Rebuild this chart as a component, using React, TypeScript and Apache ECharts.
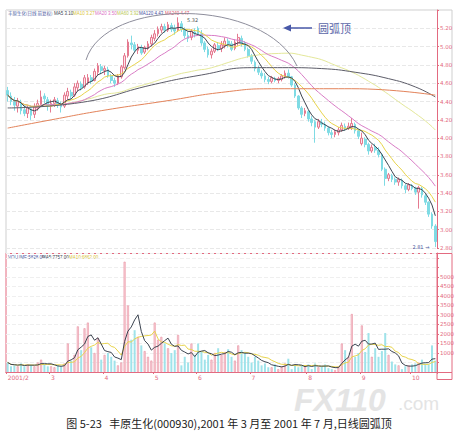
import React, { useEffect, useRef } from "react";
import * as echarts from "echarts";

// [open, close, low, high]
const ohlc: number[][] = [
  [4.52,4.47,4.40,4.56],[4.46,4.40,4.36,4.50],[4.40,4.36,4.30,4.45],[4.35,4.40,4.28,4.44],
  [4.38,4.30,4.26,4.42],[4.31,4.27,4.24,4.36],[4.27,4.33,4.22,4.36],[4.32,4.25,4.20,4.36],
  [4.26,4.34,4.22,4.38],[4.33,4.38,4.30,4.42],[4.37,4.45,4.34,4.52],[4.46,4.43,4.38,4.49],
  [4.42,4.35,4.30,4.45],[4.35,4.38,4.28,4.42],[4.38,4.42,4.34,4.45],[4.41,4.36,4.33,4.44],
  [4.36,4.34,4.28,4.40],[4.35,4.47,4.33,4.50],[4.46,4.51,4.42,4.55],[4.50,4.46,4.43,4.53],
  [4.47,4.56,4.45,4.60],[4.55,4.60,4.51,4.63],[4.59,4.55,4.52,4.62],[4.56,4.66,4.54,4.69],
  [4.60,4.66,4.58,4.70],[4.66,4.62,4.59,4.69],[4.63,4.73,4.62,4.76],[4.72,4.79,4.69,4.82],
  [4.78,4.74,4.70,4.81],[4.74,4.76,4.69,4.79],[4.75,4.68,4.66,4.78],[4.68,4.63,4.60,4.70],
  [4.63,4.60,4.56,4.66],[4.60,4.68,4.58,4.70],[4.67,4.78,4.65,4.80],[4.77,4.90,4.75,4.93],
  [4.90,5.05,4.88,5.08],[5.04,5.02,4.97,5.12],[5.02,4.96,4.94,5.05],[4.96,5.00,4.92,5.03],
  [4.99,4.93,4.91,5.02],[4.94,4.99,4.92,5.01],[4.98,5.03,4.96,5.06],[5.03,5.10,5.00,5.13],
  [5.09,5.14,5.06,5.18],[5.14,5.19,5.11,5.22],[5.18,5.22,5.15,5.25],[5.22,5.18,5.15,5.25],
  [5.18,5.24,5.16,5.27],[5.23,5.19,5.16,5.26],[5.20,5.17,5.13,5.24],[5.18,5.26,5.16,5.32],
  [5.25,5.19,5.16,5.28],[5.19,5.12,5.09,5.21],[5.12,5.09,5.05,5.16],[5.10,5.17,5.07,5.19],
  [5.16,5.14,5.10,5.20],[5.20,5.14,5.12,5.22],[5.14,5.04,5.01,5.18],[5.04,4.97,4.94,5.06],
  [4.97,4.91,4.88,5.00],[4.91,4.95,4.87,4.98],[4.95,5.02,4.93,5.04],[5.01,4.98,4.95,5.05],
  [4.98,5.02,4.94,5.06],[5.01,5.06,4.98,5.10],[5.06,5.03,4.99,5.09],[5.03,4.97,4.95,5.06],
  [4.98,5.05,4.96,5.08],[5.04,5.10,5.01,5.14],[5.09,5.04,5.00,5.12],[5.04,4.97,4.95,5.06],
  [4.97,4.90,4.88,4.99],[4.90,4.84,4.81,4.92],[4.83,4.76,4.73,4.85],[4.76,4.72,4.69,4.79],
  [4.71,4.68,4.65,4.74],[4.68,4.64,4.61,4.71],[4.64,4.62,4.59,4.67],[4.62,4.66,4.60,4.68],
  [4.65,4.63,4.61,4.67],[4.63,4.65,4.60,4.67],[4.64,4.68,4.62,4.70],[4.67,4.71,4.65,4.74],
  [4.71,4.67,4.65,4.75],[4.67,4.58,4.56,4.68],[4.58,4.46,4.44,4.60],[4.46,4.33,4.31,4.47],
  [4.33,4.26,4.22,4.35],[4.27,4.30,4.24,4.33],[4.29,4.21,4.18,4.31],[4.21,4.17,4.13,4.24],
  [4.18,4.12,3.95,4.20],[4.12,4.18,4.10,4.21],[4.17,4.15,4.12,4.21],[4.15,4.11,4.08,4.18],
  [4.11,4.06,4.03,4.13],[4.06,4.04,4.00,4.09],[4.04,4.07,4.01,4.09],[4.06,4.09,4.03,4.12],
  [4.09,4.14,4.07,4.17],[4.13,4.11,4.08,4.16],[4.11,4.13,4.09,4.17],[4.12,4.16,4.09,4.22],
  [4.15,4.08,4.05,4.17],[4.08,4.02,3.99,4.10],[3.94,4.00,3.92,4.06],[3.99,3.93,3.90,4.01],
  [3.93,3.86,3.82,3.95],[3.86,3.90,3.84,3.93],[3.90,3.87,3.84,3.94],[3.87,3.82,3.79,3.90],
  [3.82,3.66,3.64,3.84],[3.66,3.56,3.48,3.68],[3.56,3.60,3.53,3.62],[3.59,3.55,3.52,3.61],
  [3.55,3.52,3.49,3.57],[3.52,3.55,3.48,3.57],[3.54,3.48,3.45,3.56],[3.48,3.44,3.40,3.50],
  [3.44,3.49,3.42,3.51],[3.48,3.45,3.43,3.50],[3.45,3.41,3.38,3.47],[3.41,3.46,3.23,3.48],
  [3.45,3.38,3.35,3.47],[3.37,3.30,3.27,3.39],[3.30,3.17,3.14,3.31],[3.17,3.04,3.01,3.19],
  [3.04,2.87,2.81,3.06],
];

const volumes: number[] = [
  500,300,350,300,450,300,400,350,300,500,650,400,300,300,250,350,300,450,1500,600,
  900,2400,1150,2300,2600,1300,1000,1800,650,900,1000,800,600,350,500,5800,3500,1700,2200,1850,
  1400,1100,800,600,2600,1700,1850,1500,1250,1000,1150,1950,350,800,500,1500,900,1500,1100,650,
  900,650,1000,1250,900,1050,1200,800,600,1400,1150,1000,800,500,800,600,350,450,250,250,
  400,150,300,450,700,150,350,250,350,300,400,150,450,250,300,400,200,150,100,300,
  1500,1150,800,3050,800,1000,2450,1050,2050,800,1250,800,1100,2050,900,550,400,350,150,300,
  350,400,450,500,650,450,400,1400,600,
];

// long moving averages: [bar index, value]
const ma120Points: number[][] = [
  [0,4.33],[22,4.39],[43,4.58],[58,4.69],[73,4.77],[84,4.77],[94,4.76],[104,4.72],[114,4.65],[122,4.56],[128,4.45],
];
const ma240Points: number[][] = [
  [0,4.11],[13,4.20],[28,4.30],[48,4.41],[64,4.50],[79,4.54],[103,4.54],[128,4.47],
];

const tickIndex: number[] = [0, 13, 29, 44, 57, 73, 90, 106, 121];
const tickLabels: string[] = ["2001/2", "3", "4", "5", "6", "7", "8", "9", "10"];

const stockTitle = "丰原生化(日线 前复权)";
const priceLegend: string[] = ["MA5 3.10", "MA10 3.27", "MA20 3.50", "MA60 3.92", "MA120 4.43", "MA240 4.47"];
const volumeLegend: string[] = ["VOLUME:5828.00", "MA5:7757.00", "MA10:6862.00"];
const peakLabel = "5.32";
const lowLabel = "2.81";
const patternLabel = "圆弧顶";
const caption = "图 5-23   丰原生化(000930),2001 年 3 月至 2001 年 7 月,日线圆弧顶";

function movingAverage(values: number[], n: number): number[] {
  return values.map((_, i) => {
    const s = Math.max(0, i - n + 1);
    let sum = 0;
    for (let k = s; k <= i; k++) sum += values[k];
    return +(sum / (i - s + 1)).toFixed(3);
  });
}

const RED = "#e36a80";
const GRID_LINE = "#e8e8e8";

export default function App() {
  const ref = useRef<HTMLDivElement>(null);
  useEffect(() => {
    if (!ref.current) return;
    const chart = echarts.init(ref.current, undefined, { renderer: "svg" });
    const cats = ohlc.map((_, i) => String(i));
    const closes = ohlc.map((r) => r[1]);
    const tickSet = new Set(tickIndex);
    const lineS = (name: string, data: any, color: string, xi: number, yi: number, smooth: any = false) => ({
      name, type: "line", data, xAxisIndex: xi, yAxisIndex: yi, symbol: "none", smooth,
      lineStyle: { color, width: 1 }, silent: true,
    });
    const legendColors = ["#3c4450", "#d8c43a", "#d96fc4", "#b8c850", "#4a50a0", "#e0506a"];
    const legendX = [54, 73, 95, 117, 139, 165];
    const smallFont = "4.5px 'Liberation Sans'";
    const graphic: any[] = [
      // frame
      { type: "line", shape: { x1: 6, y1: 10, x2: 452, y2: 10 }, style: { stroke: "#cfcfcf", lineWidth: 1 } },
      { type: "line", shape: { x1: 6, y1: 10, x2: 6, y2: 253 }, style: { stroke: "#cfcfcf", lineWidth: 1 } },
      { type: "line", shape: { x1: 452, y1: 10, x2: 452, y2: 253 }, style: { stroke: "#cfcfcf", lineWidth: 1 } },
      { type: "line", shape: { x1: 6, y1: 253.5, x2: 452, y2: 253.5 }, style: { stroke: RED, lineWidth: 1 } },
      { type: "line", shape: { x1: 6, y1: 253, x2: 6, y2: 373 }, style: { stroke: RED, lineWidth: 1 } },
      { type: "rect", shape: { x: 437, y: 253.5, width: 15, height: 119 }, style: { fill: "none", stroke: RED, lineWidth: 1 } },
      { type: "rect", shape: { x: 437, y: 372.5, width: 15, height: 7 }, style: { fill: "none", stroke: RED, lineWidth: 1 } },
      // arc
      { type: "bezierCurve", shape: { x1: 86, y1: 60, cpx1: 105, cpy1: -3, cpx2: 265, cpy2: -3, x2: 297, y2: 66 },
        style: { stroke: "#8e8e9c", lineWidth: 1, fill: "none" }, z: 10 },
      // arrow + label
      { type: "line", shape: { x1: 312, y1: 28, x2: 288, y2: 28 }, style: { stroke: "#4858a8", lineWidth: 1.5 }, z: 10 },
      { type: "polygon", shape: { points: [[283, 28], [291, 24.5], [291, 31.5]] }, style: { fill: "#4858a8" }, z: 10 },
      { type: "text", x: 318, y: 28, style: { text: patternLabel, fill: "#5a66a8", font: "11px 'Noto Sans CJK SC'", verticalAlign: "middle" }, z: 10 },
      // legends
      { type: "text", x: 8, y: 13, style: { text: stockTitle, fill: "#4a58a0", font: "4.5px 'Noto Sans CJK SC'", verticalAlign: "middle" } },
      ...priceLegend.map((t, i) => ({ type: "text", x: legendX[i], y: 13, style: { text: t, fill: legendColors[i], font: smallFont, verticalAlign: "middle" } })),
      { type: "text", x: 8, y: 257, style: { text: volumeLegend[0], fill: "#4a58a0", font: smallFont, verticalAlign: "middle" } },
      { type: "text", x: 42, y: 257, style: { text: volumeLegend[1], fill: "#3c4450", font: smallFont, verticalAlign: "middle" } },
      { type: "text", x: 69, y: 257, style: { text: volumeLegend[2], fill: "#d8c43a", font: smallFont, verticalAlign: "middle" } },
      // watermark
      { type: "text", x: 294, y: 384, style: { text: "FX110", fill: "#e4e4e4", font: "italic bold 32px 'Liberation Sans'" }, z: 0 },
      { type: "text", x: 398, y: 394, style: { text: ".com", fill: "#e4e4e4", font: "19px 'Liberation Sans'" }, z: 0 },
      // caption
      { type: "text", x: 229, y: 423, style: { text: caption, fill: "#222", font: "11px 'Noto Sans CJK SC'", align: "center", verticalAlign: "middle" } },
    ];

    const option: any = {
      animation: false,
      backgroundColor: "#fff",
      grid: [
        { left: 6, right: 26, top: 10, height: 238 },
        { left: 6, right: 26, top: 253, height: 119 },
      ],
      xAxis: [
        { type: "category", gridIndex: 0, data: cats, boundaryGap: true, axisLine: { show: false }, axisTick: { show: false }, axisLabel: { show: false }, splitLine: { show: false } },
        { type: "category", gridIndex: 1, data: cats, boundaryGap: true,
          axisLine: { lineStyle: { color: RED, width: 1 } },
          axisTick: { show: true, length: 2, interval: (i: number) => tickSet.has(i), lineStyle: { color: RED } },
          axisLabel: { show: true, interval: (i: number) => tickSet.has(i), formatter: (v: string) => { const k = tickIndex.indexOf(Number(v)); return k >= 0 ? tickLabels[k] : ""; },
            fontSize: 6, color: RED, margin: 2, align: "left", fontFamily: "DejaVu Sans" },
          splitLine: { show: false } },
      ],
      yAxis: [
        { type: "value", gridIndex: 0, position: "right", min: 2.8, max: 5.4, interval: 0.2, scale: true,
          axisLine: { show: true, lineStyle: { color: RED } }, axisTick: { show: true, length: 2, lineStyle: { color: RED } },
          axisLabel: { fontSize: 5.5, color: RED, margin: 3, fontFamily: "DejaVu Sans", formatter: (v: number) => (v > 5.3 ? "" : v.toFixed(2)) },
          splitLine: { show: true, lineStyle: { color: GRID_LINE, width: 1, type: "dashed" } } },
        { type: "value", gridIndex: 1, position: "right", min: 0, max: 6260, interval: 500,
          axisLine: { show: true, lineStyle: { color: RED } }, axisTick: { show: true, length: 2, lineStyle: { color: RED } },
          axisLabel: { fontSize: 5.5, color: RED, margin: 3, fontFamily: "DejaVu Sans", formatter: (v: number) => (v >= 1000 && v <= 5000 ? String(v) : "") },
          splitLine: { show: true, lineStyle: { color: "#efefef", width: 1, type: "dashed" } } },
      ],
      series: [
        { name: "K", type: "candlestick", xAxisIndex: 0, yAxisIndex: 0, data: ohlc, barWidth: 2.2,
          itemStyle: { color: "#fbe4e9", color0: "#7fdbe4", borderColor: "#e57a90", borderColor0: "#7fdbe4", borderWidth: 1 },
          markPoint: {
            symbol: "circle", symbolSize: 0, silent: true,
            data: [
              { coord: [51, 5.32], value: 5.32, label: { show: true, formatter: peakLabel, position: "right", offset: [4, 3], fontSize: 5, color: "#555", fontFamily: "DejaVu Sans" } },
              { coord: [128, 2.81], value: 2.81, label: { show: true, formatter: lowLabel + " →", position: "left", offset: [-1, 0], fontSize: 5, color: "#4a58a0", fontFamily: "DejaVu Sans" } },
            ],
          } },
        lineS("MA60", movingAverage(closes, 60), "#e4e89a", 0, 0),
        lineS("MA20", movingAverage(closes, 20), "#d97cc6", 0, 0),
        lineS("MA10", movingAverage(closes, 10), "#e8d44a", 0, 0),
        lineS("MA5", movingAverage(closes, 5), "#3c4450", 0, 0),
        lineS("MA120", ma120Points, "#5c5c68", 0, 0, 0.5),
        lineS("MA240", ma240Points, "#e3835a", 0, 0, 0.5),
        { name: "VOL", type: "bar", xAxisIndex: 1, yAxisIndex: 1, barWidth: 2,
          data: volumes.map((v, i) => {
            const up = ohlc[i][1] >= ohlc[i][0];
            return { value: v, itemStyle: up ? { color: "#f7d3da", borderColor: "#e98ea0", borderWidth: 0.6 } : { color: "#9fe3ea" } };
          }) },
        lineS("VMA10", movingAverage(volumes, 10), "#e8d44a", 1, 1),
        lineS("VMA5", movingAverage(volumes, 5), "#3c4450", 1, 1),
      ],
      graphic,
    };
    chart.setOption(option);
    return () => chart.dispose();
  }, []);
  return <div ref={ref} style={{ position: "absolute", left: 0, top: 0, width: 463, height: 434, background: "#fff" }} />;
}
